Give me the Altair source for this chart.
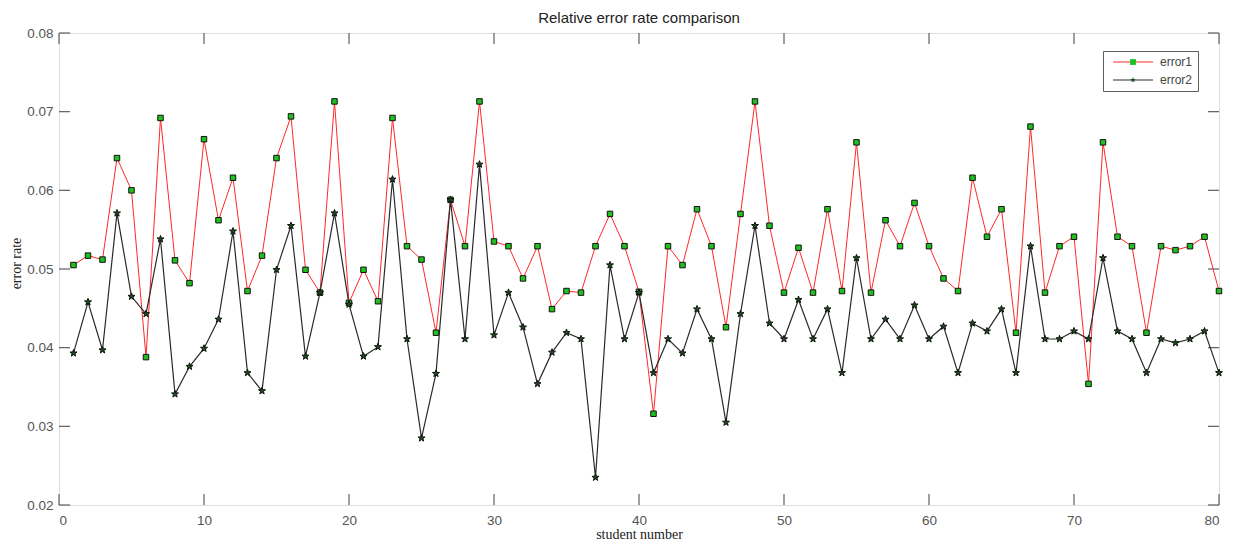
import altair as alt
import pandas as pd

students = list(range(1, 81))

error1 = [
    0.0505, 0.0517, 0.0512, 0.0641, 0.0600, 0.0388, 0.0692, 0.0511, 0.0482, 0.0665,
    0.0562, 0.0616, 0.0472, 0.0517, 0.0641, 0.0694, 0.0499, 0.0470, 0.0713, 0.0457,
    0.0499, 0.0459, 0.0692, 0.0529, 0.0512, 0.0419, 0.0588, 0.0529, 0.0713, 0.0535,
    0.0529, 0.0488, 0.0529, 0.0449, 0.0472, 0.0470, 0.0529, 0.0570, 0.0529, 0.0471,
    0.0316, 0.0529, 0.0505, 0.0576, 0.0529, 0.0426, 0.0570, 0.0713, 0.0555, 0.0470,
    0.0527, 0.0470, 0.0576, 0.0472, 0.0661, 0.0470, 0.0562, 0.0529, 0.0584, 0.0529,
    0.0488, 0.0472, 0.0616, 0.0541, 0.0576, 0.0419, 0.0681, 0.0470, 0.0529, 0.0541,
    0.0354, 0.0661, 0.0541, 0.0529, 0.0419, 0.0529, 0.0524, 0.0529, 0.0541, 0.0472,
]

error2 = [
    0.0393, 0.0458, 0.0397, 0.0571, 0.0465, 0.0443, 0.0538, 0.0341, 0.0376, 0.0399,
    0.0436, 0.0548, 0.0368, 0.0345, 0.0499, 0.0555, 0.0389, 0.0470, 0.0571, 0.0455,
    0.0389, 0.0401, 0.0614, 0.0411, 0.0285, 0.0367, 0.0588, 0.0411, 0.0633, 0.0416,
    0.0470, 0.0426, 0.0354, 0.0394, 0.0419, 0.0411, 0.0235, 0.0505, 0.0411, 0.0470,
    0.0368, 0.0411, 0.0393, 0.0449, 0.0411, 0.0305, 0.0443, 0.0555, 0.0431, 0.0411,
    0.0461, 0.0411, 0.0449, 0.0368, 0.0514, 0.0411, 0.0436, 0.0411, 0.0454, 0.0411,
    0.0427, 0.0368, 0.0431, 0.0421, 0.0449, 0.0368, 0.0529, 0.0411, 0.0411, 0.0421,
    0.0411, 0.0514, 0.0421, 0.0411, 0.0368, 0.0411, 0.0406, 0.0411, 0.0421, 0.0368,
]

series_names = ["error1", "error2"]
x_ticks = [0, 10, 20, 30, 40, 50, 60, 70, 80]
y_ticks = [0.02, 0.03, 0.04, 0.05, 0.06, 0.07, 0.08]

W, H = 1160, 472
TICK = 11
FRAME = "#5e5e5e"
RED = "#ff2828"
DARK = "#2a2a2a"
GREEN = "#20c020"
DGREEN = "#1d4d1d"
STAR = ("M0,-1L0.235,-0.324L0.951,-0.309L0.38,0.124L0.588,0.809L0,0.4"
        "L-0.588,0.809L-0.38,0.124L-0.951,-0.309L-0.235,-0.324Z")

df = pd.DataFrame({
    "student": students * 2,
    "rate": error1 + error2,
    "series": ["error1"] * len(students) + ["error2"] * len(students),
})
xt = pd.DataFrame({"student": x_ticks})
yt = pd.DataFrame({"rate": y_ticks})

xscale = alt.Scale(domain=[0, 80], nice=False, zero=False)
yscale = alt.Scale(domain=[0.02, 0.08], nice=False, zero=False)

label_font = "Liberation Sans"
serif = "Liberation Serif"

xaxis = alt.Axis(
    values=x_ticks, ticks=False, domain=False, grid=False, format="d",
    labelPadding=8, labelFont=label_font, labelFontSize=13.5, labelColor="#555555",
    title="student number", titleFont=serif, titleFontSize=14, titleFontWeight="normal",
    titleColor="#222222", titleBaseline="alphabetic", titleY=33,
)
yaxis = alt.Axis(
    values=y_ticks, ticks=False, domain=False, grid=False, format=".2f",
    labelPadding=6, labelFont=label_font, labelFontSize=13.5, labelColor="#555555",
    title="error rate", titleFont=serif, titleFontSize=14, titleFontWeight="normal",
    titleColor="#222222", titleAngle=270, titleBaseline="middle", titleAlign="center",
    titleX=-43, titleY=230,
)

X = alt.X("student:Q", scale=xscale, axis=xaxis)
Y = alt.Y("rate:Q", scale=yscale, axis=yaxis)

LX, LY = 1044, 18
common = dict(title=None, orient="none", legendX=LX, legendY=LY, padding=5,
              symbolOffset=19, labelOffset=21, rowPadding=6,
              labelFont=label_font, labelFontSize=12)

# legend A: line samples, labels and box
legend_lines = alt.Legend(
    strokeColor=FRAME, symbolType="M-4,0H4", symbolSize=100, symbolStrokeWidth=1,
    labelColor="#444444", zindex=1, **common)
# legend B: markers drawn on top of the line samples (labels hidden)
legend_marks = alt.Legend(
    symbolSize=34, symbolStrokeWidth=1, symbolStrokeColor="#111111", symbolOpacity=1,
    labelOpacity=0, zindex=2, **common)

shape = alt.Shape("series:N", scale=alt.Scale(range=["square", STAR]), legend=legend_marks)
fill = alt.Fill("series:N", scale=alt.Scale(range=[GREEN, DGREEN]), legend=legend_marks)

base = alt.Chart(df)

line1 = base.transform_filter(alt.datum.series == "error1").mark_line(
    color=RED, strokeWidth=1).encode(x=X, y=Y)
pts1 = base.transform_filter(alt.datum.series == "error1").mark_point(
    filled=True, size=30, stroke="#111111", strokeWidth=1, opacity=1
).encode(x=X, y=Y, shape=shape, fill=fill)
line2 = base.transform_filter(alt.datum.series == "error2").mark_line(
    color=DARK, strokeWidth=1.2).encode(x=X, y=Y)
pts2 = base.transform_filter(alt.datum.series == "error2").mark_point(
    filled=True, size=55, stroke="#111111", strokeWidth=1, opacity=1
).encode(x=X, y=Y, shape=shape, fill=fill)

# no rows pass this filter: it only supplies the line colours to the legend
legend_src = base.transform_filter(alt.datum.student < 0).mark_point(opacity=1).encode(
    x=X, y=Y,
    stroke=alt.Stroke("series:N", scale=alt.Scale(domain=series_names, range=[RED, DARK]),
                      legend=legend_lines),
)

xt_bottom = alt.Chart(xt).mark_rule(color=FRAME, strokeWidth=1.2).encode(
    x=X, y=alt.value(H - TICK), y2=alt.value(H))
xt_top = alt.Chart(xt).mark_rule(color=FRAME, strokeWidth=1.2).encode(
    x=X, y=alt.value(0), y2=alt.value(TICK))
yt_left = alt.Chart(yt).mark_rule(color=FRAME, strokeWidth=1.2).encode(
    y=Y, x=alt.value(0), x2=alt.value(TICK))
yt_right = alt.Chart(yt).mark_rule(color=FRAME, strokeWidth=1.2).encode(
    y=Y, x=alt.value(W - TICK), x2=alt.value(W))

chart = alt.layer(
    xt_bottom, xt_top, yt_left, yt_right, line1, pts1, line2, pts2, legend_src
).properties(
    width=W, height=H,
    autosize=alt.AutoSizeParams(type="none"),
    padding={"left": 51, "top": 25, "right": 7, "bottom": 35},
    title=alt.Title("Relative error rate comparison", font=label_font, fontSize=15,
                    fontWeight="normal", color="#222222", anchor="middle", frame="group",
                    offset=0),
).configure_view(
    stroke=FRAME, strokeWidth=1.5
).configure(background="white")

chart.save("out.html", embed_options={"renderer": "svg", "actions": False})
